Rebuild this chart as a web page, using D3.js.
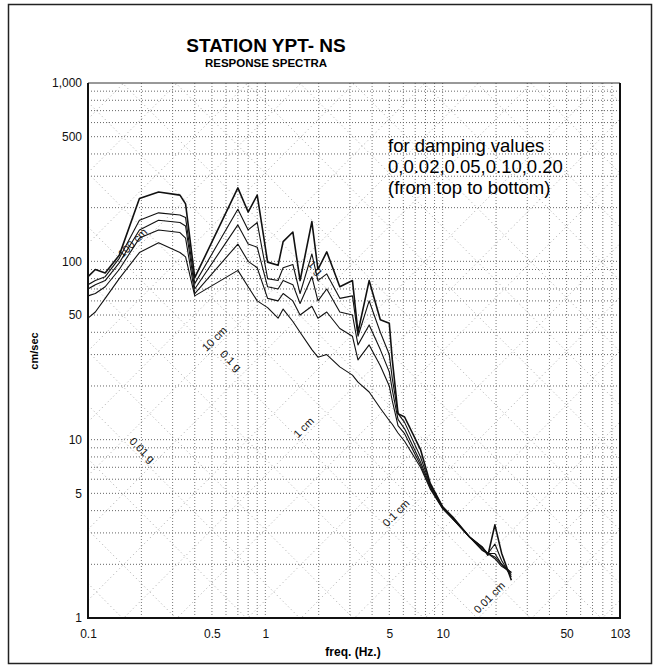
<!DOCTYPE html>
<html>
<head>
<meta charset="utf-8">
<script src="https://cdn.jsdelivr.net/npm/d3@7"></script>
<style>
  body { margin: 0; background: #fff; }
  text { font-family: Arial, "Liberation Sans", sans-serif; }
</style>
</head>
<body>
<div id="chart"></div>
<script>
// frequencies (Hz) shared by the five spectra
const freqs = [0.10, 0.11, 0.125, 0.15, 0.195, 0.25, 0.33, 0.355, 0.40, 0.70, 0.80, 0.90, 1.03, 1.18, 1.26, 1.43, 1.57, 1.83, 1.98, 2.22, 2.63, 3.1, 3.33, 3.85, 4.45, 5.0, 5.2, 5.6, 6.1, 7.5, 8.5, 10.0, 11.4, 14.2, 16.7, 18.0, 19.7, 21.5, 24.4];
// pseudo velocity (cm/sec) for damping 0, 0.02, 0.05, 0.10, 0.20
const damp0  = [82, 90, 86, 108, 225, 245, 235, 210, 81, 258, 189, 235, 99, 95, 129, 146, 78, 167, 90, 113, 72, 78, 40, 78, 47, 45, 28, 14, 13.4, 8.8, 5.7, 4.2, 3.68, 2.84, 2.5, 2.25, 3.33, 2.31, 1.63];
const damp02 = [74, 78, 82, 104, 170, 187, 182, 176, 75, 196, 150, 165, 80, 78, 92, 96, 66, 110, 78, 85, 62, 64, 38, 60, 40, 30, 22, 14, 12.5, 8, 5.6, 4.2, 3.65, 2.84, 2.5, 2.3, 2.6, 2.1, 1.7];
const damp05 = [70, 74, 78, 98, 150, 170, 165, 158, 70, 160, 125, 120, 72, 70, 78, 74, 58, 82, 60, 70, 52, 50, 34, 44, 32, 24, 19, 13, 11.5, 7.5, 5.5, 4.15, 3.6, 2.84, 2.45, 2.3, 2.3, 2.0, 1.75];
const damp10 = [64, 66, 72, 90, 135, 150, 145, 135, 66, 125, 100, 92, 62, 60, 66, 60, 50, 56, 48, 52, 42, 38, 28, 34, 26, 20, 16.5, 12, 10.8, 7.2, 5.4, 4.1, 3.6, 2.84, 2.4, 2.3, 2.2, 2.0, 1.8];
const damp20 = [48, 52, 62, 80, 112, 127, 112, 106, 64, 89, 72, 60, 55, 48, 54, 46, 40, 32, 29, 30, 25.6, 23, 21, 18.5, 15, 12.8, 12.2, 10.9, 9.8, 7, 5.3, 4.1, 3.6, 2.84, 2.4, 2.3, 2.15, 1.95, 1.8];

const xTicks = [0.1, 0.5, 1, 5, 10, 50, 100];
const xTickLabels = ["0.1", "0.5", "1", "5", "10", "50", "103"];
const yTicks = [1, 5, 10, 50, 100, 500, 1000];
const yTickLabels = ["1", "5", "10", "50", "100", "500", "1,000"];

// tripartite guide lines
const dispLines = [0.002, 0.005, 0.01, 0.02, 0.05, 0.1, 0.2, 0.5, 1, 2, 5, 10, 20, 50, 100, 200, 500, 1000];   // cm
const accLines = [0.001, 0.002, 0.005, 0.01, 0.02, 0.05, 0.1, 0.2, 0.5, 1, 2, 5, 10, 20, 50, 100, 200, 500];   // g
const dispLabelValues = [100, 10, 1, 0.1, 0.01];
const dispLabelFreqs = [0.19, 0.55, 1.75, 5.8, 19.5];
const accLabelValues = [1, 0.1, 0.01];
const accLabelFreqs = [1.8, 0.6, 0.19];

const G = 981; // cm/s^2

const width = 660, height = 669;
const margin = {top: 83, right: 40, bottom: 51, left: 88};

const svg = d3.select("#chart").append("svg")
    .attr("width", width)
    .attr("height", height);

// page frame
svg.append("rect")
    .attr("x", 8.5).attr("y", 4.5)
    .attr("width", 643).attr("height", 659)
    .attr("fill", "none")
    .attr("stroke", "#222")
    .attr("stroke-width", 1.5);

const x = d3.scaleLog().domain([0.1, 100]).range([margin.left, width - margin.right]);
const y = d3.scaleLog().domain([1, 1000]).range([height - margin.bottom, margin.top]);

svg.append("defs").append("clipPath").attr("id", "plotclip")
    .append("rect")
    .attr("x", x.range()[0]).attr("y", y.range()[1])
    .attr("width", x.range()[1] - x.range()[0])
    .attr("height", y.range()[0] - y.range()[1]);

const plot = svg.append("g").attr("clip-path", "url(#plotclip)");

// log grid (every 1..9 of each decade)
const xGrid = [];
for (let e = -1; e < 2; e++) for (let m = 1; m < 10; m++) xGrid.push(m * Math.pow(10, e));
const yGrid = [];
for (let e = 0; e < 3; e++) for (let m = 1; m < 10; m++) yGrid.push(m * Math.pow(10, e));

plot.append("g").selectAll("line")
    .data(xGrid.slice(1))
    .join("line")
    .attr("x1", d => x(d)).attr("x2", d => x(d))
    .attr("y1", y.range()[0]).attr("y2", y.range()[1])
    .attr("stroke", "#777")
    .attr("stroke-width", 1)
    .attr("stroke-dasharray", "1,2");

plot.append("g").selectAll("line")
    .data(yGrid.slice(1))
    .join("line")
    .attr("y1", d => y(d)).attr("y2", d => y(d))
    .attr("x1", x.range()[0]).attr("x2", x.range()[1])
    .attr("stroke", "#666")
    .attr("stroke-width", 1)
    .attr("stroke-dasharray", "1,2");

// displacement lines: V = 2*pi*f*D
plot.append("g").selectAll("line")
    .data(dispLines)
    .join("line")
    .attr("x1", x(0.1)).attr("y1", d => y(2 * Math.PI * 0.1 * d))
    .attr("x2", x(100)).attr("y2", d => y(2 * Math.PI * 100 * d))
    .attr("stroke", "#aaa")
    .attr("stroke-width", 1)
    .attr("stroke-dasharray", "1,3");

// acceleration lines: V = A / (2*pi*f)
plot.append("g").selectAll("line")
    .data(accLines)
    .join("line")
    .attr("x1", x(0.1)).attr("y1", d => y(d * G / (2 * Math.PI * 0.1)))
    .attr("x2", x(100)).attr("y2", d => y(d * G / (2 * Math.PI * 100)))
    .attr("stroke", "#aaa")
    .attr("stroke-width", 1)
    .attr("stroke-dasharray", "1,3");

// guide labels
const lab = svg.append("g").attr("font-size", 11).attr("fill", "#111");
lab.selectAll("text.disp")
    .data(dispLabelValues)
    .join("text")
    .attr("class", "disp")
    .attr("text-anchor", "middle")
    .attr("transform", (d, i) => {
        const f = dispLabelFreqs[i];
        return `translate(${x(f)},${y(2 * Math.PI * f * d)}) rotate(-45)`;
    })
    .attr("dy", -3)
    .text(d => d + " cm");

lab.selectAll("text.acc")
    .data(accLabelValues)
    .join("text")
    .attr("class", "acc")
    .attr("text-anchor", "middle")
    .attr("transform", (d, i) => {
        const f = accLabelFreqs[i];
        return `translate(${x(f)},${y(d * G / (2 * Math.PI * f))}) rotate(45)`;
    })
    .attr("dy", -3)
    .text(d => d + " g");

// spectra
const series = [damp0, damp02, damp05, damp10, damp20];
const line = d3.line()
    .x(d => x(d[0]))
    .y(d => y(d[1]));

plot.append("g").selectAll("path")
    .data(series)
    .join("path")
    .attr("d", s => line(freqs.map((f, i) => [f, s[i]])))
    .attr("fill", "none")
    .attr("stroke", "#111")
    .attr("stroke-width", (d, i) => i === 0 ? 1.6 : 1.1)
    .attr("stroke-linejoin", "round");

// plot border
const x0 = x.range()[0], x1 = x.range()[1], y0 = y.range()[1], y1 = y.range()[0];
svg.append("line").attr("x1", x0).attr("x2", x1).attr("y1", y0).attr("y2", y0)
    .attr("stroke", "#333").attr("stroke-width", 1);
svg.append("path")
    .attr("d", `M${x0},${y0}V${y1}H${x1}V${y0}`)
    .attr("fill", "none")
    .attr("stroke", "#111")
    .attr("stroke-width", 2);

// axes
const xAxis = svg.append("g")
    .attr("transform", `translate(0,${y1})`)
    .call(d3.axisBottom(x).tickValues(xTicks)
        .tickFormat((d, i) => xTickLabels[i]).tickSize(0).tickPadding(11));
xAxis.select(".domain").remove();
xAxis.selectAll("text").attr("font-size", 12).attr("font-family", "Arial, 'Liberation Sans', sans-serif").attr("fill", "#111");

const yAxis = svg.append("g")
    .attr("transform", `translate(${x0},0)`)
    .call(d3.axisLeft(y).tickValues(yTicks)
        .tickFormat((d, i) => yTickLabels[i]).tickSize(0).tickPadding(6));
yAxis.select(".domain").remove();
yAxis.selectAll("text").attr("font-size", 12).attr("font-family", "Arial, 'Liberation Sans', sans-serif").attr("fill", "#111");

// titles
svg.append("text")
    .attr("x", 266).attr("y", 52)
    .attr("text-anchor", "middle")
    .attr("font-size", 19).attr("font-weight", "bold")
    .text("STATION YPT- NS");
svg.append("text")
    .attr("x", 266).attr("y", 67)
    .attr("text-anchor", "middle")
    .attr("font-size", 11.5).attr("font-weight", "bold")
    .text("RESPONSE SPECTRA");

svg.append("text")
    .attr("transform", "translate(38,351) rotate(-90)")
    .attr("text-anchor", "middle")
    .attr("font-size", 11).attr("font-weight", "bold")
    .text("cm/sec");

svg.append("text")
    .attr("x", 353).attr("y", 656)
    .attr("text-anchor", "middle")
    .attr("font-size", 12).attr("font-weight", "bold")
    .text("freq. (Hz.)");

// note
const note = svg.append("text")
    .attr("x", 388).attr("y", 152)
    .attr("font-size", 18.5);
["for damping values", "0,0.02,0.05,0.10,0.20", "(from top to bottom)"].forEach((t, i) => {
    note.append("tspan").attr("x", 388).attr("dy", i === 0 ? 0 : 21).text(t);
});
</script>
</body>
</html>
